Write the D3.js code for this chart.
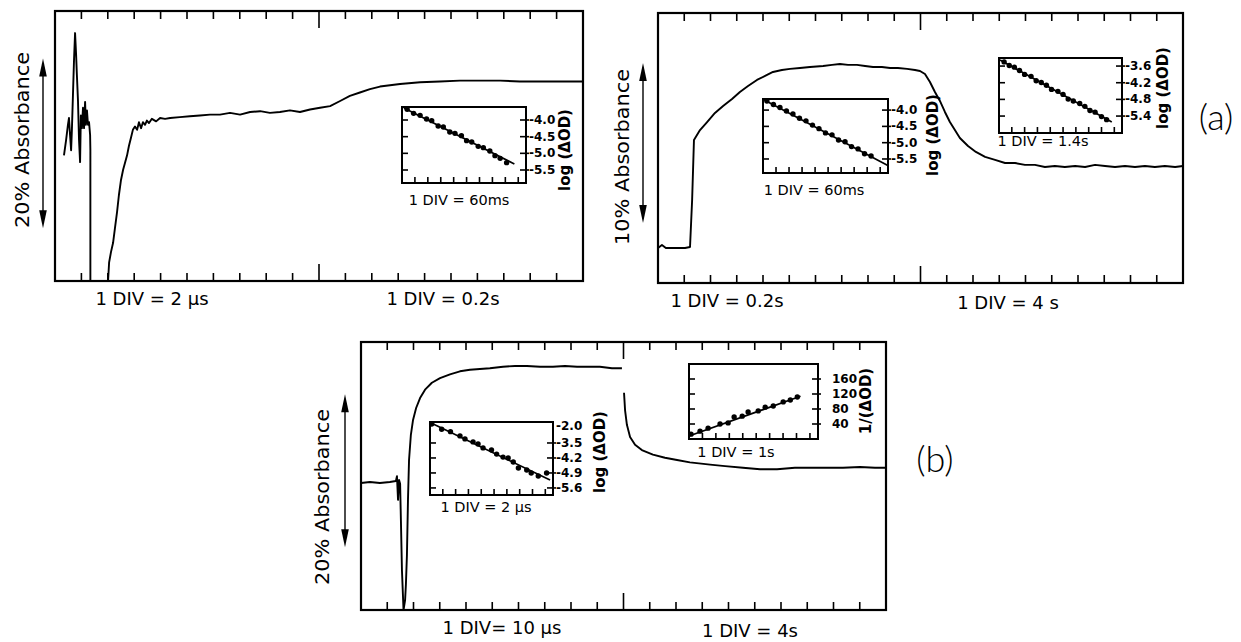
<!DOCTYPE html>
<html>
<head>
<meta charset="utf-8">
<script src="https://cdn.jsdelivr.net/npm/d3@7"></script>
<style>
  body { margin: 0; background: #fff; }
  svg { display: block; }
</style>
</head>
<body>
<svg id="fig" width="1241" height="642"></svg>
<script>
// ---------- Transient absorbance traces: [time in divisions, % absorbance] ----------
// Top-left trace: flash artefact, then recovery (1 DIV = 2 µs, then 1 DIV = 0.2 s)
const traceTL_flash = [
  [0.34,14.8],[0.42,16.6],[0.49,18.4],[0.53,19.2],[0.57,17.2],[0.61,15.4],[0.64,17.8],
  [0.68,21.9],[0.72,26.0],[0.76,29.2],[0.80,26.6],[0.83,24.2],[0.87,21.3],[0.91,16.6],
  [0.95,14.0],[0.98,19.5],[1.02,18.0],[1.06,20.4],[1.10,18.0],[1.14,21.1],[1.17,18.4],
  [1.21,20.1],[1.25,18.4],[1.29,18.7],[1.33,17.2],[1.34,15.4],[1.34,0]
];
const traceTL_rise = [
  [2.01,0],[2.05,2.2],[2.12,3.4],[2.20,4.5],[2.27,6.2],[2.35,8.1],[2.42,10.1],[2.50,11.9],
  [2.58,13.1],[2.65,13.9],[2.73,14.8],[2.80,15.9],[2.88,16.9],[2.95,17.8],[3.03,18.2],
  [3.11,17.8],[3.18,18.7],[3.26,18.0],[3.33,18.7],[3.41,18.4],[3.48,18.9],[3.56,18.6],
  [3.67,19.1],[3.83,18.8],[3.98,19.2],[4.17,19.1],[4.36,19.2],[4.73,19.3],[5.11,19.4],
  [5.49,19.5],[5.87,19.6],[6.25,19.6],[6.63,19.8],[7.01,19.6],[7.39,19.9],[7.77,20.0],
  [8.14,19.8],[8.52,19.9],[8.90,20.1],[9.28,19.9],[9.66,20.2],[10.04,20.4],[10.42,20.6],
  [10.80,21.2],[11.17,21.8],[11.55,22.2],[11.93,22.6],[12.31,22.9],[13.07,23.2],
  [13.83,23.4],[14.58,23.5],[15.34,23.6],[16.10,23.6],[16.86,23.6],[17.61,23.5],
  [18.37,23.5],[19.13,23.5],[20.0,23.5]
];
// Top-right trace (1 DIV = 0.2 s, then 1 DIV = 4 s)
const traceTR = [
  [0,2.19],[0.15,2.38],[0.30,2.19],[0.65,2.19],[1.03,2.19],[1.22,2.25],[1.30,5.19],
  [1.37,8.94],[1.60,9.56],[1.87,10.06],[2.17,10.63],[2.48,11.06],[2.82,11.50],[3.12,11.94],
  [3.43,12.31],[3.77,12.69],[4.08,12.94],[4.38,13.19],[4.72,13.31],[5.03,13.38],
  [5.41,13.44],[5.79,13.50],[6.29,13.56],[6.63,13.63],[6.93,13.69],[7.24,13.63],
  [7.58,13.63],[7.89,13.56],[8.19,13.50],[8.53,13.50],[8.84,13.44],[9.14,13.44],
  [9.49,13.38],[9.79,13.31],[9.98,13.25],[10.17,13.06],[10.36,12.56],[10.55,11.94],
  [10.74,11.38],[10.93,10.69],[11.12,10.06],[11.31,9.56],[11.50,9.06],[11.81,8.56],
  [12.11,8.19],[12.46,7.88],[12.84,7.69],[13.22,7.50],[13.60,7.50],[13.98,7.38],
  [14.36,7.38],[14.74,7.25],[15.12,7.31],[15.50,7.25],[15.89,7.31],[16.27,7.25],
  [16.65,7.38],[17.03,7.31],[17.41,7.25],[17.79,7.31],[18.17,7.25],[18.55,7.31],
  [18.93,7.25],[19.31,7.31],[19.70,7.25],[20.0,7.31]
];
// Bottom trace (1 DIV = 10 µs, then 1 DIV = 4 s)
const traceB_fast = [
  [0,16.6],[0.34,16.73],[0.72,16.6],[1.10,16.73],[1.33,16.86],[1.37,17.5],[1.41,14.4],
  [1.45,17.0],[1.49,16.5],[1.52,11.8],[1.56,5.2],[1.62,0],[1.68,1.3],[1.71,3.3],
  [1.75,7.2],[1.79,14.4],[1.83,19.6],[1.90,22.9],[1.98,24.8],[2.10,26.4],[2.25,27.7],
  [2.44,28.8],[2.70,29.7],[3.01,30.3],[3.39,30.8],[3.77,31.2],[4.15,31.4],[4.53,31.5],
  [4.91,31.6],[5.41,31.8],[5.87,31.9],[6.32,31.9],[6.82,31.8],[7.31,31.8],[7.77,31.9],
  [8.23,31.8],[8.61,31.8],[9.10,31.8],[9.56,31.6],[9.94,31.6]
];
const traceB_slow = [
  [10.02,28.4],[10.06,26.1],[10.13,24.2],[10.25,22.6],[10.44,21.6],[10.70,20.9],
  [11.12,20.3],[11.58,19.9],[12.04,19.6],[12.53,19.3],[13.30,19.0],[13.87,18.8],
  [14.55,18.6],[15.20,18.4],[15.85,18.4],[16.53,18.6],[17.10,18.6],[17.87,18.6],
  [18.36,18.6],[19.01,18.7],[19.58,18.6],[20.0,18.6]
];

// ---------- Kinetic insets: [time in divisions, log(ΔOD) or 1/ΔOD] ----------
const insetTL_ticks = [-4.0, -4.5, -5.0, -5.5];
const insetTL_fit = [[0.15,-3.64],[8.7,-5.32]];
const insetTL_pts = [
  [0.4,-3.68],[0.9,-3.80],[1.4,-3.86],[1.9,-3.97],[2.3,-4.02],[2.8,-4.18],[3.2,-4.21],
  [3.7,-4.36],[4.1,-4.40],[4.6,-4.47],[5.0,-4.62],[5.4,-4.66],[5.9,-4.79],[6.3,-4.83],
  [6.8,-4.93],[7.2,-5.07],[7.6,-5.15],[8.1,-5.28]
];
const insetTR1_ticks = [-4.0, -4.5, -5.0, -5.5];
const insetTR1_fit = [[0.1,-3.69],[9.55,-5.69]];
const insetTR1_pts = [
  [0.3,-3.72],[0.8,-3.83],[1.3,-3.92],[1.8,-4.03],[2.3,-4.12],[2.8,-4.25],[3.3,-4.33],
  [3.8,-4.46],[4.3,-4.57],[4.8,-4.70],[5.3,-4.76],[5.8,-4.92],[6.3,-4.97],[6.8,-5.12],
  [7.3,-5.19],[7.8,-5.34],[8.3,-5.41]
];
const insetTR2_ticks = [-3.6, -4.2, -4.8, -5.4];
const insetTR2_fit = [[0.08,-3.38],[8.8,-5.61]];
const insetTR2_pts = [
  [0.4,-3.45],[0.8,-3.58],[1.2,-3.64],[1.6,-3.76],[2.0,-3.90],[2.5,-3.97],[2.9,-4.13],
  [3.3,-4.19],[3.7,-4.29],[4.1,-4.44],[4.6,-4.51],[5.0,-4.62],[5.4,-4.79],[5.8,-4.86],
  [6.3,-4.95],[6.7,-5.05],[7.1,-5.20],[7.5,-5.26],[8.0,-5.42],[8.4,-5.53]
];
const insetB1_ticks = [-3.5, -4.2, -4.9, -5.6];
const insetB1_top = "-2.0";
const insetB1_fit = [[0.13,-2.58],[9.37,-5.23]];
const insetB1_pts = [
  [0.13,-2.61],[0.91,-2.86],[1.6,-2.97],[2.34,-3.17],[2.73,-3.31],[3.36,-3.45],
  [3.75,-3.55],[4.14,-3.73],[4.8,-3.83],[5.2,-4.02],[5.7,-4.16],[6.1,-4.20],[6.5,-4.39],
  [6.9,-4.67],[7.55,-4.76],[7.9,-4.90],[8.45,-5.04],[9.1,-4.90]
];
const insetB2_ticks = [40, 80, 120, 160];
const insetB2_fit = [[0.0,8],[8.3,114]];
const insetB2_pts = [
  [0.15,13],[0.82,21],[1.42,29],[2.31,40],[2.91,43],[3.36,59],[3.96,61],[4.40,72],
  [5.15,75],[5.67,85],[6.27,88],[7.01,99],[7.54,104],[8.06,112]
];

const MAIN_DIVS = 20;
const INSET_DIVS = 9.6;
const FONT = "'DejaVu Sans', 'Liberation Sans', sans-serif";

const svg = d3.select("#fig");
svg.append("rect").attr("width", 1241).attr("height", 642).attr("fill", "#fff");

function tickLines(g, xs) {
  g.selectAll(null).data(xs).join("line")
    .attr("x1", d => d.x).attr("x2", d => d.x)
    .attr("y1", d => d.y1).attr("y2", d => d.y2)
    .attr("stroke", "#000").attr("stroke-width", 1.6);
}

function drawPanel(p) {
  const x = d3.scaleLinear().domain([0, MAIN_DIVS]).range([p.x0, p.x1]);
  const y = d3.scaleLinear().domain([0, p.ymax]).range([p.y1, p.y0]);
  const g = svg.append("g");

  const tk = [];
  d3.range(1, MAIN_DIVS).forEach(d => {
    const len = d === MAIN_DIVS / 2 ? 17 : 8;
    tk.push({ x: x(d), y1: p.y0, y2: p.y0 + len });
    tk.push({ x: x(d), y1: p.y1, y2: p.y1 - len });
  });
  tickLines(g, tk);

  const line = d3.line().x(d => x(d[0])).y(d => y(d[1]));
  p.traces.forEach(t => {
    g.append("path").attr("d", line(t)).attr("fill", "none")
      .attr("stroke", "#000").attr("stroke-width", 1.9)
      .attr("stroke-linejoin", "round");
  });

  g.append("rect").attr("x", p.x0).attr("y", p.y0)
    .attr("width", p.x1 - p.x0).attr("height", p.y1 - p.y0)
    .attr("fill", "none").attr("stroke", "#000").attr("stroke-width", 2.2);

  // scale-bar double arrow
  const yTop = y(p.arrow[1]), yBot = y(p.arrow[0]), ax = p.arrowX;
  g.append("line").attr("x1", ax).attr("x2", ax).attr("y1", yTop + 10).attr("y2", yBot - 10)
    .attr("stroke", "#000").attr("stroke-width", 1.4);
  g.append("path").attr("d", `M${ax},${yTop} L${ax - 3.8},${yTop + 18} L${ax + 3.8},${yTop + 18} Z`).attr("fill", "#000");
  g.append("path").attr("d", `M${ax},${yBot} L${ax - 3.8},${yBot - 18} L${ax + 3.8},${yBot - 18} Z`).attr("fill", "#000");

  g.append("text")
    .attr("transform", `translate(${p.ylabel.x},${p.ylabel.y}) rotate(-90)`)
    .attr("text-anchor", "middle").attr("dominant-baseline", "central")
    .attr("font-family", FONT).attr("font-size", 20)
    .attr("textLength", 176).attr("lengthAdjust", "spacingAndGlyphs")
    .text(p.ylabel.text);

  p.xlabels.forEach(l => {
    g.append("text").attr("x", l.x).attr("y", l.y)
      .attr("text-anchor", "middle").attr("dominant-baseline", "central")
      .attr("font-family", FONT).attr("font-size", 18)
      .text(l.text);
  });
}

function drawInset(s) {
  const b = s.box;
  const x = d3.scaleLinear().domain([0, INSET_DIVS]).range([b.x, b.x + b.w]);
  const y = d3.scaleLinear().domain(s.yDomain).range([b.y + b.h, b.y]);
  const g = svg.append("g");

  g.append("rect").attr("x", b.x).attr("y", b.y).attr("width", b.w).attr("height", b.h)
    .attr("fill", "#fff");

  const tk = [];
  d3.range(1, 10).forEach(d => tk.push({ x: x(d), y1: b.y + b.h, y2: b.y + b.h - 6 }));
  tickLines(g, tk);
  g.selectAll(null).data(s.ticks).join("line")
    .attr("x1", b.x).attr("x2", b.x + 6).attr("y1", d => y(d)).attr("y2", d => y(d))
    .attr("stroke", "#000").attr("stroke-width", 1.6);
  g.selectAll(null).data(s.ticks).join("line")
    .attr("x1", b.x + b.w - 6).attr("x2", b.x + b.w + 3).attr("y1", d => y(d)).attr("y2", d => y(d))
    .attr("stroke", "#000").attr("stroke-width", 1.6);

  g.selectAll(null).data(s.ticks).join("text")
    .attr("x", b.x + b.w + (s.labelGap || 3)).attr("y", d => y(d))
    .attr("dominant-baseline", "central")
    .attr("font-family", FONT).attr("font-size", 12).attr("font-weight", "bold")
    .text(d => s.fmt(d));
  if (s.topLabel) {
    g.append("text").attr("x", b.x + b.w + 3).attr("y", y(s.yDomain[1]) + 4)
      .attr("dominant-baseline", "central")
      .attr("font-family", FONT).attr("font-size", 12).attr("font-weight", "bold")
      .text(s.topLabel);
  }

  const line = d3.line().x(d => x(d[0])).y(d => y(d[1]));
  g.append("path").attr("d", line(s.fit)).attr("fill", "none")
    .attr("stroke", "#000").attr("stroke-width", 1.7);
  g.selectAll(null).data(s.pts).join("circle")
    .attr("cx", d => x(d[0])).attr("cy", d => y(d[1])).attr("r", 2.7).attr("fill", "#000");

  g.append("rect").attr("x", b.x).attr("y", b.y).attr("width", b.w).attr("height", b.h)
    .attr("fill", "none").attr("stroke", "#000").attr("stroke-width", 2);

  g.append("text").attr("x", s.caption.x).attr("y", s.caption.y)
    .attr("text-anchor", "middle").attr("dominant-baseline", "central")
    .attr("font-family", FONT).attr("font-size", 14.5)
    .text(s.caption.text);
  g.append("text")
    .attr("transform", `translate(${s.ylabel.x},${s.ylabel.y}) rotate(-90)`)
    .attr("text-anchor", "middle").attr("dominant-baseline", "central")
    .attr("font-family", FONT).attr("font-size", 15).attr("font-weight", "bold")
    .text(s.ylabel.text);
}

const fmt1 = d => d.toFixed(1);

drawPanel({
  x0: 55, x1: 583, y0: 11, y1: 281, ymax: 31.8,
  traces: [traceTL_flash, traceTL_rise],
  arrow: [6.2, 26.2], arrowX: 43,
  ylabel: { x: 22, y: 140, text: "20% Absorbance" },
  xlabels: [{ x: 152, y: 298, text: "1 DIV = 2 μs" }, { x: 443, y: 298, text: "1 DIV = 0.2s" }]
});
drawPanel({
  x0: 658, x1: 1183, y0: 13, y1: 283, ymax: 16.875,
  traces: [traceTR],
  arrow: [3.75, 13.75], arrowX: 643,
  ylabel: { x: 622, y: 157, text: "10% Absorbance" },
  xlabels: [{ x: 727, y: 300, text: "1 DIV = 0.2s" }, { x: 1008, y: 302, text: "1 DIV = 4 s" }]
});
drawPanel({
  x0: 361, x1: 886, y0: 342, y1: 610, ymax: 35.03,
  traces: [traceB_fast, traceB_slow],
  arrow: [8.2, 28.2], arrowX: 345,
  ylabel: { x: 322, y: 497, text: "20% Absorbance" },
  xlabels: [{ x: 502, y: 627, text: "1 DIV= 10 μs" }, { x: 750, y: 630, text: "1 DIV = 4s" }]
});

drawInset({
  box: { x: 402, y: 107, w: 124, h: 76 }, yDomain: [-5.89, -3.61],
  ticks: insetTL_ticks, fmt: fmt1, fit: insetTL_fit, pts: insetTL_pts,
  caption: { x: 459, y: 200, text: "1 DIV = 60ms" },
  ylabel: { x: 565, y: 150, text: "log (ΔOD)" }
});
drawInset({
  box: { x: 763, y: 99, w: 125, h: 74 }, yDomain: [-5.93, -3.66],
  ticks: insetTR1_ticks, fmt: fmt1, fit: insetTR1_fit, pts: insetTR1_pts,
  caption: { x: 814, y: 190, text: "1 DIV = 60ms" },
  ylabel: { x: 933, y: 135, text: "log (ΔOD)" }
});
drawInset({
  box: { x: 999, y: 58, w: 123, h: 75 }, yDomain: [-6.01, -3.31],
  ticks: insetTR2_ticks, fmt: fmt1, fit: insetTR2_fit, pts: insetTR2_pts,
  caption: { x: 1043, y: 141, text: "1 DIV = 1.4s" },
  ylabel: { x: 1163, y: 88, text: "log (ΔOD)" }
});
drawInset({
  box: { x: 430, y: 422, w: 123, h: 73 }, yDomain: [-5.93, -2.52],
  ticks: insetB1_ticks, fmt: fmt1, topLabel: insetB1_top, fit: insetB1_fit, pts: insetB1_pts,
  caption: { x: 486, y: 507, text: "1 DIV = 2 μs" },
  ylabel: { x: 600, y: 452, text: "log (ΔOD)" }
});
drawInset({
  box: { x: 689, y: 364, w: 129, h: 75 }, yDomain: [0, 200],
  ticks: insetB2_ticks, fmt: d => String(d), labelGap: 14, fit: insetB2_fit, pts: insetB2_pts,
  caption: { x: 736, y: 452, text: "1 DIV = 1s" },
  ylabel: { x: 866, y: 401, text: "1/(ΔOD)" }
});

// part labels
[{ x: 1216, y: 116, t: "(a)" }, { x: 935, y: 458, t: "(b)" }].forEach(l => {
  svg.append("text").attr("x", l.x).attr("y", l.y)
    .attr("text-anchor", "middle").attr("dominant-baseline", "central")
    .attr("font-family", "Lato, 'Open Sans', sans-serif").attr("font-weight", 300)
    .attr("font-size", 36).text(l.t);
});
</script>
</body>
</html>
